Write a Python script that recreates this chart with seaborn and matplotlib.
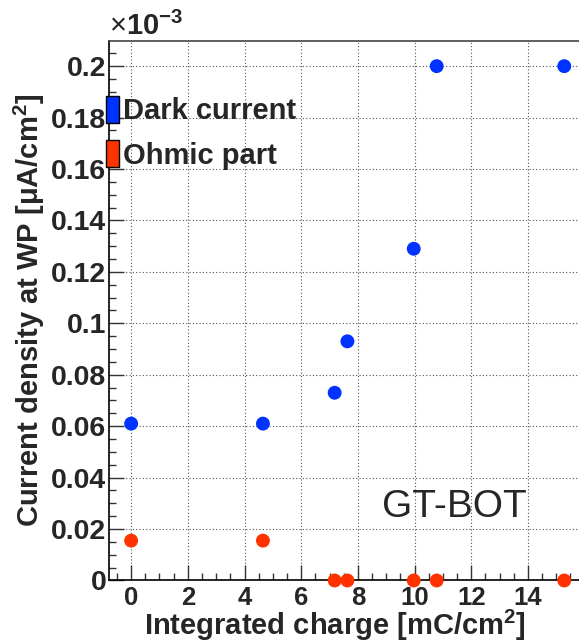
import numpy as np
import pandas as pd
import seaborn as sns
import matplotlib.pyplot as plt
from matplotlib.patches import Patch
from matplotlib.ticker import MultipleLocator, FuncFormatter

# data (current density in units of 1e-3 uA/cm^2)
charge = [0.0, 4.65, 7.18, 7.63, 9.97, 10.78, 15.28]
dark_current = [0.061, 0.061, 0.073, 0.093, 0.129, 0.200, 0.200]
ohmic_part = [0.0155, 0.0155, 0.0, 0.0, 0.0, 0.0, 0.0]
series_names = ["Dark current", "Ohmic part"]
series_colors = ["#0033ff", "#ff3300"]

df = pd.DataFrame({
    "charge": charge * 2,
    "current": dark_current + ohmic_part,
    "series": [series_names[0]] * len(charge) + [series_names[1]] * len(charge),
})

sns.set_theme(style="white")
plt.rcParams["font.family"] = ["Liberation Sans", "DejaVu Sans"]
plt.rcParams["mathtext.fontset"] = "custom"
plt.rcParams["mathtext.rm"] = "Liberation Sans"
plt.rcParams["mathtext.bf"] = "Liberation Sans:bold"

fig = plt.figure(figsize=(5.79, 6.41), dpi=100)
ax = fig.add_axes([0.1883, 0.0944, 0.820, 0.8417])

sns.scatterplot(data=df, x="charge", y="current", hue="series",
                palette=dict(zip(series_names, series_colors)),
                s=100, linewidth=0, legend=False, clip_on=False, zorder=5, ax=ax)

ax.set_xlim(-0.78, 15.97)
ax.set_ylim(0, 0.2098)

ax.xaxis.set_major_locator(MultipleLocator(2))
ax.xaxis.set_minor_locator(MultipleLocator(0.5))
ax.yaxis.set_major_locator(MultipleLocator(0.02))
ax.yaxis.set_minor_locator(MultipleLocator(0.005))
ax.yaxis.set_major_formatter(FuncFormatter(lambda v, p: "%g" % round(v, 4)))
ax.xaxis.set_major_formatter(FuncFormatter(lambda v, p: "%g" % round(v, 4)))

ax.grid(True, which="major", linestyle=(0, (1, 2)), color="#555555", linewidth=0.8)
ax.tick_params(which="both", direction="in", color="#333333", width=1,
               top=False, right=False, bottom=True, left=True)
ax.tick_params(which="major", length=11)
ax.tick_params(which="minor", length=5)
ax.tick_params(axis="x", labelsize=18.5, pad=4)
ax.tick_params(axis="y", labelsize=20.5, pad=2)
for lab in ax.get_xticklabels() + ax.get_yticklabels():
    lab.set_fontweight("bold")

for side in ["left", "bottom"]:
    ax.spines[side].set_color("black")
    ax.spines[side].set_linewidth(1.2)
ax.spines["top"].set_color("#444444")
ax.spines["top"].set_linewidth(1.2)

ax.set_xlabel("Integrated charge [mC/cm$^{\\mathbf{2}}$]", fontsize=21, fontweight="bold")
ax.xaxis.set_label_coords(0.476, -0.051)
ax.set_ylabel("Current density at WP [\u03bcA/cm$^{\\mathbf{2}}$]", fontsize=21, fontweight="bold")
ax.yaxis.set_label_coords(-0.131, 0.5)

fig.text(109 / 579, 1 - 35 / 641, r"$\times\mathbf{10^{-3}}$", fontsize=21,
         ha="left", va="baseline")

ax.text(0.575, 0.118, "GT-BOT", transform=ax.transAxes, fontsize=28,
        ha="left", va="baseline")

handles = [Patch(facecolor=c, edgecolor="black", linewidth=1) for c in series_colors]
leg = fig.legend(handles, series_names, loc="upper left",
                 bbox_to_anchor=(106 / 579, 1 - 96 / 641),
                 frameon=False, borderpad=0, borderaxespad=0,
                 handlelength=0.45, handleheight=1.05, handletextpad=0.14,
                 labelspacing=0.5, prop={"weight": "bold", "size": 21})

fig.savefig("out.png", dpi=100)
